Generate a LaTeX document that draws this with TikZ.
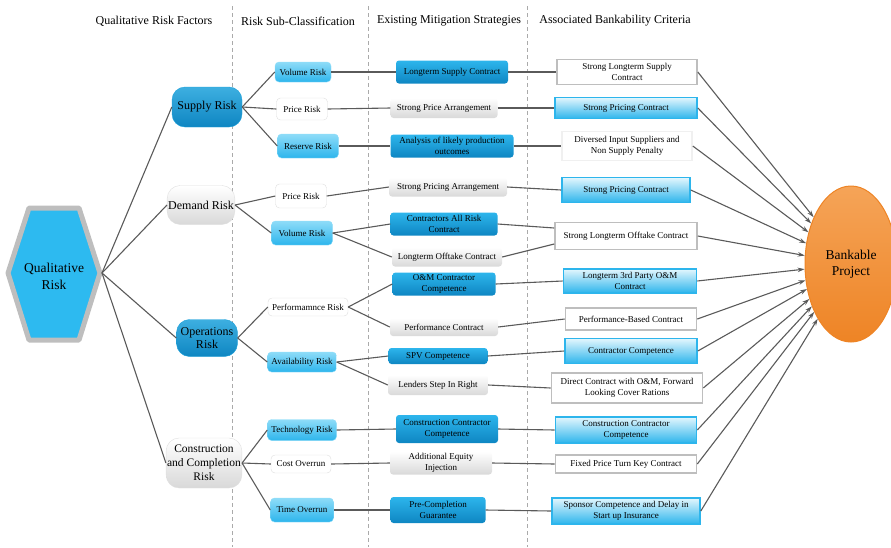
\documentclass[tikz,border=0pt]{standalone}
\usepackage{fontspec}
\setmainfont{Liberation Serif}
\definecolor{risk_line}{RGB}{90, 90, 90}
\definecolor{risk_dash}{RGB}{170, 170, 170}
\definecolor{risk_blue}{RGB}{27, 161, 219}
\definecolor{risk_deep}{RGB}{14, 134, 194}
\definecolor{risk_cyan}{RGB}{45, 181, 236}
\definecolor{risk_pale}{RGB}{142, 220, 248}
\definecolor{risk_rim}{RGB}{190, 190, 190}
\definecolor{risk_hex}{RGB}{45, 186, 240}
\definecolor{bank_top}{RGB}{245, 164, 88}
\definecolor{bank_low}{RGB}{238, 132, 37}
\usepackage{tikz}
\usetikzlibrary{arrows.meta, positioning, shapes.geometric}

\begin{document}
\begin{tikzpicture}[x=1pt, y=-1pt,
        head/.style={font=\fontsize{12}{14}\selectfont},
        factorbox/.style={rounded corners=13pt, align=center, inner xsep=1pt,
                    font=\fontsize{12}{13.5}\selectfont},
        factorblue/.style={factorbox, top color=risk_blue!85, bottom color=risk_deep,
                    draw=risk_blue},
        factorgray/.style={factorbox, top color=white, bottom color=gray!30,
                    draw=gray!25},
        subbox/.style={rounded corners=4pt, align=center, inner xsep=2pt,
                    font=\fontsize{9}{11}\selectfont},
        subblue/.style={subbox, top color=risk_pale, bottom color=risk_cyan,
                    draw=risk_pale},
        subwhite/.style={subbox, fill=white, draw=gray!25},
        stratbox/.style={rounded corners=3pt, align=center, inner xsep=2pt, inner ysep=1pt,
                    font=\fontsize{9}{11}\selectfont},
        stratblue/.style={stratbox, top color=risk_cyan, bottom color=risk_deep},
        stratgray/.style={stratbox, top color=white, bottom color=gray!30},
        critbox/.style={align=center, inner xsep=2pt, inner ysep=1pt, line width=1.6pt,
                    font=\fontsize{9}{11}\selectfont},
        critblue/.style={critbox, top color=risk_pale!25, bottom color=risk_cyan,
                    draw=risk_cyan},
        critwhite/.style={critbox, fill=white, draw=risk_rim},
        link/.style={draw=risk_line, line width=1.1pt},
        feed/.style={link, -{Stealth[length=7pt, width=4.5pt]}}]
        \useasboundingbox (0,0) rectangle (891,547);
        % Column guides
        \foreach \gx in {232, 368, 527}
          \draw[risk_dash, line width=0.8pt, dash pattern=on 4pt off 3pt] (\gx,6) -- (\gx,547);
        \node[head] (h1) at (154,21) {Qualitative Risk Factors};
        \node[head] (h2) at (298,21) {Risk Sub-Classification};
        \node[head] (h3) at (449,21) {Existing Mitigation Strategies};
        \node[head] (h4) at (615,21) {Associated Bankability Criteria};

        % Root hexagon
        \draw[line width=5pt, draw=risk_rim, fill=risk_hex, line join=round]
          (29,208) -- (79,208) -- (100,273) -- (79,340) -- (29,340) -- (8,273) -- cycle;
        \node[align=center, font=\fontsize{13.5}{17}\selectfont] (qual) at (54,276)
          {Qualitative\\Risk};
        \coordinate (qual-e) at (102,273);

        % Risk factors
        \node[factorblue, minimum width=70pt, minimum height=40pt] (supply) at (207,107) {Supply Risk};
        \node[factorgray, minimum width=65pt, minimum height=39pt] (demand) at (201,205) {Demand Risk};
        \node[factorblue, minimum width=61pt, minimum height=37pt] (ops) at (207,338) {Operations\\Risk};
        \node[factorgray, minimum width=72pt, minimum height=50pt, font=\fontsize{11.5}{14}\selectfont]
          (constr) at (204,463) {Construction\\and Completion\\Risk};

        % Sub-classification
        \node[subblue, minimum width=56pt, minimum height=20pt] (vol1) at (303,72) {Volume Risk};
        \node[subwhite, minimum width=51pt, minimum height=22pt] (pri1) at (302,109) {Price Risk};
        \node[subblue, minimum width=61pt, minimum height=24pt] (res) at (308,146) {Reserve Risk};
        \node[subwhite, minimum width=51pt, minimum height=24pt] (pri2) at (301,196) {Price Risk};
        \node[subblue, minimum width=61pt, minimum height=24pt] (vol2) at (302,233) {Volume Risk};
        \node[subwhite, minimum width=80pt, minimum height=18pt] (perf) at (308,307) {Performamnce Risk};
        \node[subblue, minimum width=69pt, minimum height=20pt] (avail) at (302,362) {Availability Risk};
        \node[subblue, minimum width=69pt, minimum height=21pt] (tech) at (302,430) {Technology Risk};
        \node[subwhite, minimum width=60pt, minimum height=18pt] (cost) at (301,464) {Cost Overrun};
        \node[subblue, minimum width=63pt, minimum height=24pt] (time) at (302,510) {Time Overrun};

        % Mitigation strategies
        \node[stratblue, minimum width=112pt, minimum height=23pt] (lsc) at (452,72) {Longterm Supply Contract};
        \node[stratgray, minimum width=107pt, minimum height=20pt] (spa) at (444,108) {Strong Price Arrangement};
        \node[stratblue, minimum width=123pt, minimum height=23pt] (alp) at (452,146)
          {Analysis of likely production\\outcomes};
        \node[stratgray, minimum width=118pt, minimum height=19pt] (spr) at (448,187) {Strong Pricing Arrangement};
        \node[stratblue, minimum width=107pt, minimum height=23pt] (car) at (444,224)
          {Contractors All Risk\\Contract};
        \node[stratgray, minimum width=110pt, minimum height=19pt] (loc) at (447,257) {Longterm Offtake Contract};
        \node[stratblue, minimum width=103pt, minimum height=23pt] (omc) at (444,284)
          {O\&M Contractor\\Competence};
        \node[stratgray, minimum width=108pt, minimum height=18pt] (pco) at (444,327) {Performance Contract};
        \node[stratblue, minimum width=99pt, minimum height=16pt] (spv) at (438,356) {SPV Competence};
        \node[stratgray, minimum width=100pt, minimum height=20pt] (lsr) at (438,385) {Lenders Step In Right};
        \node[stratblue, minimum width=102pt, minimum height=28pt] (ccc) at (447,429)
          {Construction Contractor\\Competence};
        \node[stratgray, minimum width=102pt, minimum height=23pt] (aei) at (441,463)
          {Additional Equity\\Injection};
        \node[stratblue, minimum width=95pt, minimum height=26pt] (pcg) at (438,510)
          {Pre-Completion\\Guarantee};

        % Bankability criteria
        \node[critwhite, minimum width=140pt, minimum height=25pt] (c1) at (627,72)
          {Strong Longterm Supply\\Contract};
        \node[critblue, minimum width=142pt, minimum height=21pt] (c2) at (626,108) {Strong Pricing Contract};
        \node[critwhite, draw=gray!12, minimum width=130pt, minimum height=29pt] (c3) at (627,146)
          {Diversed Input Suppliers and\\Non Supply Penalty};
        \node[critblue, minimum width=128pt, minimum height=25pt] (c4) at (626,190) {Strong Pricing Contract};
        \node[critwhite, minimum width=142pt, minimum height=27pt] (c5) at (626,236)
          {Strong Longterm Offtake Contract};
        \node[critblue, minimum width=133pt, minimum height=24pt] (c6) at (630,281)
          {Longterm 3rd Party O\&M\\Contract};
        \node[critwhite, minimum width=131pt, minimum height=22pt] (c7) at (631,319)
          {Performance-Based Contract};
        \node[critblue, minimum width=132pt, minimum height=25pt] (c8) at (631,351)
          {Contractor Competence};
        \node[critwhite, minimum width=151pt, minimum height=30pt] (c9) at (627,388)
          {Direct Contract with O\&M, Forward\\Looking Cover Rations};
        \node[critblue, minimum width=141pt, minimum height=26pt] (c10) at (626,430)
          {Construction Contractor\\Competence};
        \node[critwhite, minimum width=141pt, minimum height=18pt] (c11) at (626,464)
          {Fixed Price Turn Key Contract};
        \node[critblue, minimum width=148pt, minimum height=26pt] (c12) at (626,511)
          {Sponsor Competence and Delay in\\Start up Insurance};

        % Goal
        \node[ellipse, minimum width=92pt, minimum height=156pt, top color=bank_top,
          bottom color=bank_low, draw=bank_low, line width=1pt, align=center,
          font=\fontsize{13.5}{16}\selectfont] (bank) at (851,264) {Bankable\\Project};

        % Root to factors
        \foreach \f in {supply, demand, ops, constr}
          \draw[link] (qual-e) -- (\f.west);
        % Factors to sub-classes
        \foreach \f/\s in {supply/vol1, supply/pri1, supply/res, demand/pri2, demand/vol2,
                           ops/perf, ops/avail, constr/tech, constr/cost, constr/time}
          \draw[link] (\f.east) -- (\s.west);
        % Sub-classes to strategies
        \foreach \s/\m in {vol1/lsc, pri1/spa, res/alp, pri2/spr, vol2/car, vol2/loc,
                           perf/omc, perf/pco, avail/spv, avail/lsr, tech/ccc, cost/aei, time/pcg}
          \draw[link] (\s.east) -- (\m.west);
        % Strategies to criteria
        \foreach \m/\c in {lsc/c1, spa/c2, alp/c3, spr/c4, omc/c6, pco/c7, spv/c8,
                           lsr/c9, ccc/c10, aei/c11, pcg/c12}
          \draw[link] (\m.east) -- (\c.west);
        \draw[link] (car.east) -- ([yshift=8pt]c5.west);
        \draw[link] (loc.east) -- ([yshift=-8pt]c5.west);
        % Criteria to goal
        \foreach \c in {c1, c2, c3, c4, c5, c6, c7, c8, c9, c10, c11, c12}
          \draw[feed] (\c.east) -- (bank);
      \end{tikzpicture}
\end{document}
